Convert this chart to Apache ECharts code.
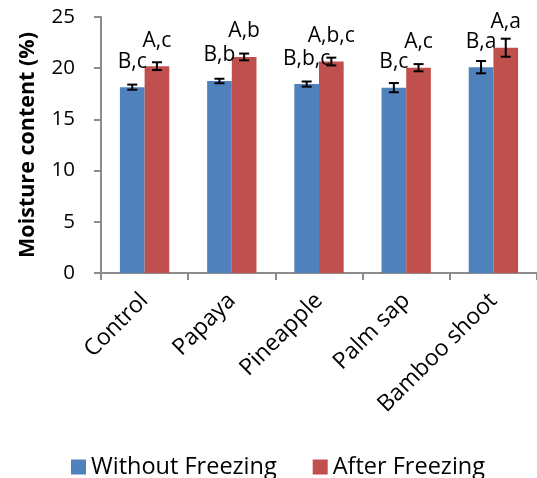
<!DOCTYPE html>
<html>
<head>
<meta charset="utf-8">
<script src="https://cdn.jsdelivr.net/npm/echarts@6/dist/echarts.min.js"></script>
<style>
html,body{margin:0;padding:0;background:#fff;}
#chart{width:537px;height:478px;}
</style>
</head>
<body>
<div id="chart"></div>
<script>
var categories = ['Control', 'Papaya', 'Pineapple', 'Palm sap', 'Bamboo shoot'];
var withoutFreezing = [18.15, 18.75, 18.45, 18.1, 20.1];
var afterFreezing = [20.2, 21.1, 20.65, 20.05, 22.0];
var errWithout = [0.25, 0.22, 0.25, 0.45, 0.6];
var errAfter = [0.38, 0.33, 0.38, 0.35, 0.88];
var lblWithout = ['B,c', 'B,b', 'B,b,c', 'B,c', 'B,a'];
var lblAfter = ['A,c', 'A,b', 'A,b,c', 'A,c', 'A,a'];
var yTicks = [0, 5, 10, 15, 20, 25];

var FONT = 'Open Sans';
var BAR_FRAC = 0.283;
var blue = '#4F81BD', red = '#C0504D';

function errSeries(vals, errs, side) {
  return {
    type: 'custom',
    silent: true,
    z: 5,
    data: vals.map(function (v, i) { return [i, v, errs[i]]; }),
    renderItem: function (params, api) {
      var i = api.value(0), v = api.value(1), e = api.value(2);
      var band = api.size([1, 0])[0];
      var w = band * BAR_FRAC;
      var hi = api.coord([i, v + e]);
      var lo = api.coord([i, v - e]);
      var x = hi[0] + side * w / 2;
      var cap = 5;
      var st = { stroke: '#000', lineWidth: 2 };
      return {
        type: 'group',
        children: [
          { type: 'line', shape: { x1: x, y1: hi[1], x2: x, y2: lo[1] }, style: st },
          { type: 'line', shape: { x1: x - cap, y1: hi[1], x2: x + cap, y2: hi[1] }, style: st },
          { type: 'line', shape: { x1: x - cap, y1: lo[1], x2: x + cap, y2: lo[1] }, style: st }
        ]
      };
    }
  };
}

function barSeries(name, vals, labels, color) {
  return {
    name: name,
    type: 'bar',
    barWidth: (BAR_FRAC * 100) + '%',
    barGap: '0%',
    data: vals,
    itemStyle: { color: color },
    label: {
      show: true,
      position: 'top',
      distance: 15,
      fontFamily: FONT,
      fontSize: 21,
      color: '#000',
      formatter: function (p) { return labels[p.dataIndex]; }
    }
  };
}

var chart = echarts.init(document.getElementById('chart'), null, { renderer: 'canvas' });
chart.setOption({
  animation: false,
  backgroundColor: '#fff',
  textStyle: { fontFamily: FONT },
  grid: { left: 101, top: 17, width: 442, height: 256, containLabel: false },
  legend: {
    left: 71,
    top: 455,
    padding: 0,
    itemWidth: 15,
    itemHeight: 15,
    itemGap: 36,
    icon: 'rect',
    textStyle: { fontFamily: FONT, fontSize: 23.5, color: '#000' },
    data: ['Without Freezing', 'After Freezing']
  },
  xAxis: {
    type: 'category',
    data: categories,
    axisLine: { lineStyle: { color: '#8c8c8c', width: 2 } },
    axisTick: { show: true, length: 7, lineStyle: { color: '#8c8c8c', width: 2 } },
    axisLabel: { rotate: 45, interval: 0, margin: 24, fontFamily: FONT, fontSize: 23, color: '#000' },
    splitLine: { show: false }
  },
  yAxis: {
    type: 'value',
    min: yTicks[0],
    max: yTicks[yTicks.length - 1],
    interval: 5,
    name: 'Moisture content (%)',
    nameLocation: 'middle',
    nameRotate: 90,
    nameGap: 62,
    nameTextStyle: { fontFamily: FONT, fontSize: 21.5, fontWeight: 'bold', color: '#000' },
    axisLine: { show: true, lineStyle: { color: '#8c8c8c', width: 2 } },
    axisTick: { show: true, length: 7, lineStyle: { color: '#8c8c8c', width: 2 } },
    axisLabel: { margin: 26, fontFamily: FONT, fontSize: 20.5, color: '#000' },
    splitLine: { show: false }
  },
  series: [
    barSeries('Without Freezing', withoutFreezing, lblWithout, blue),
    barSeries('After Freezing', afterFreezing, lblAfter, red),
    errSeries(withoutFreezing, errWithout, -1),
    errSeries(afterFreezing, errAfter, 1)
  ]
});
</script>
</body>
</html>
